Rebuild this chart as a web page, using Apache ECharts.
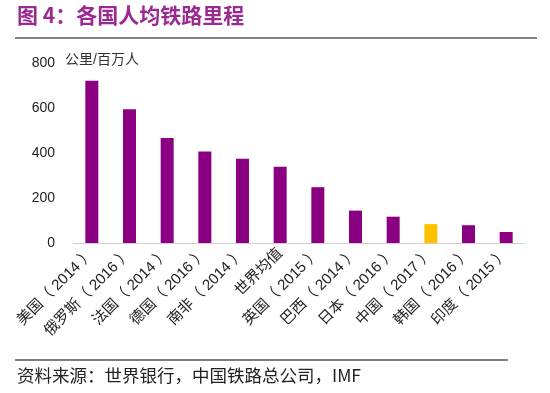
<!DOCTYPE html>
<html><head><meta charset="utf-8">
<script src="https://cdn.jsdelivr.net/npm/echarts@6/dist/echarts.min.js"></script>
<style>html,body{margin:0;padding:0;background:#fff}#c{width:550px;height:393px}</style>
</head><body><div id="c"></div>
<script>
const categories = ['美国（ 2014 ）','俄罗斯（ 2016 ）','法国（ 2014 ）','德国（ 2016 ）','南非（ 2014 ）','世界均值','英国（ 2015 ）','巴西（ 2014 ）','日本（ 2016 ）','中国（ 2017 ）','韩国（ 2016 ）','印度（ 2015 ）'];
const values = [721, 594, 467, 407, 375, 339, 248, 144, 117, 84, 79, 49];
const highlightCategory = '中国（ 2017 ）';
const yTicks = [0, 200, 400, 600, 800];
const titleText = '图 4：各国人均铁路里程';
const unitText = '公里/百万人';
const sourceText = '资料来源：世界银行，中国铁路总公司，IMF';

const PURPLE = '#8B0083', YELLOW = '#FFC000';
const font = '"Liberation Sans", "Noto Sans CJK SC", sans-serif';
const chart = echarts.init(document.getElementById('c'));
chart.setOption({
  animation: false,
  textStyle: { fontFamily: font },
  grid: { left: 73, right: 25, top: 63, bottom: 150, containLabel: false },
  xAxis: {
    type: 'category', data: categories,
    axisLine: { lineStyle: { color: '#d0d0d0', width: 1 } },
    axisTick: { inside: true, length: 3, lineStyle: { color: '#d0d0d0' } },
    axisLabel: { rotate: 45, interval: 0, fontSize: 15, color: '#222', margin: 8, fontFamily: font }
  },
  yAxis: {
    type: 'value', min: yTicks[0], max: yTicks[yTicks.length - 1], interval: 200,
    name: unitText, nameLocation: 'end', nameGap: -4,
    nameTextStyle: { align: 'left', verticalAlign: 'bottom', fontSize: 14, color: '#333', padding: [0, 0, 0, -8] },
    axisLine: { show: false }, axisTick: { show: false }, splitLine: { show: false },
    axisLabel: { fontSize: 14, color: '#222', margin: 18, fontFamily: font }
  },
  series: [{
    type: 'bar', barWidth: 13,
    data: values.map((v, i) => ({ value: v, itemStyle: { color: categories[i] === highlightCategory ? YELLOW : PURPLE } }))
  }],
  graphic: [
    { type: 'text', left: 17, top: 5, style: { text: titleText, fontSize: 21, fontWeight: 'bold', fill: '#9A2A92', fontFamily: '"Noto Sans CJK SC", sans-serif' } },
    { type: 'line', shape: { x1: 15, y1: 38, x2: 537, y2: 38 }, style: { stroke: '#555', lineWidth: 1.5 } },
    { type: 'line', shape: { x1: 15, y1: 360, x2: 508, y2: 360 }, style: { stroke: '#555', lineWidth: 1.5 } },
    { type: 'text', left: 17, top: 367, style: { text: sourceText, fontSize: 17.5, fill: '#222', fontFamily: '"Noto Sans CJK SC", sans-serif' } }
  ]
});
</script></body></html>
